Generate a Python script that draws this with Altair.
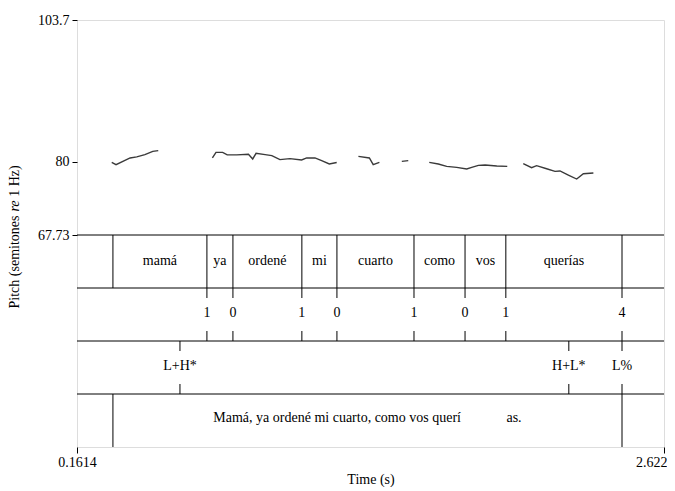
import altair as alt
import pandas as pd

# ---- data ----
# pitch contour (time in s, pitch in semitones re 1 Hz), one list per voiced stretch
seg1_t = [0.307, 0.325, 0.384, 0.412, 0.446, 0.479, 0.502]
seg1_p = [79.88, 79.50, 80.62, 80.79, 81.18, 81.73, 81.85]
seg2_t = [0.729, 0.744, 0.772, 0.791, 0.831, 0.880, 0.898, 0.912, 0.950, 0.978,
          1.012, 1.054, 1.103, 1.124, 1.159, 1.187, 1.219, 1.250]
seg2_p = [80.62, 81.56, 81.56, 81.13, 81.13, 81.23, 80.45, 81.40, 81.18, 81.01,
          80.34, 80.51, 80.29, 80.62, 80.62, 80.17, 79.61, 79.85]
seg3_t = [1.341, 1.387, 1.403, 1.429]
seg3_p = [80.89, 80.62, 79.50, 79.88]
seg4_t = [1.523, 1.550]
seg4_p = [80.05, 80.17]
seg5_t = [1.638, 1.676, 1.711, 1.753, 1.795, 1.816, 1.844, 1.872, 1.921, 1.965]
seg5_p = [79.88, 79.61, 79.21, 79.04, 78.77, 79.04, 79.38, 79.45, 79.28, 79.21]
seg6_t = [2.032, 2.067, 2.088, 2.130, 2.165, 2.186, 2.221, 2.256, 2.284, 2.326]
seg6_p = [79.66, 78.99, 79.33, 78.82, 78.37, 78.44, 77.76, 77.09, 77.98, 78.10]

t_min, t_max = 0.1614, 2.622
p_min, p_max = 67.73, 103.7
p_ticks = [67.73, 80, 103.7]
t_ticks = [0.1614, 2.622]

# tier 1: words (interval tier)
word_bounds = [0.312, 0.706, 0.815, 1.104, 1.251, 1.574, 1.788, 1.959, 2.446]
words = ["mamá", "ya", "ordené", "mi", "cuarto", "como", "vos", "querías"]
# tier 2: break indices (point tier)
break_times = [0.706, 0.815, 1.104, 1.251, 1.574, 1.788, 1.959, 2.446]
break_labels = ["1", "0", "1", "0", "1", "0", "1", "4"]
# tier 3: tones (point tier)
tone_times = [0.593, 2.223, 2.446]
tone_labels = ["L+H*", "H+L*", "L%"]
# tier 4: sentence (interval tier)
sent_bounds = [0.312, 2.446]
sentence = ["Mamá, ya ordené mi cuarto, como vos querí" + "\u00a0" * 13 + "as."]

# ---- layout ----
W, H = 587, 427
PITCH_H = 215
TIER_H = 53
tier_tops = [PITCH_H + i * TIER_H for i in range(4)]
FONT = "Liberation Serif"
FS = 14
TICK = 10

segs = []
for i, (ts, ps) in enumerate([(seg1_t, seg1_p), (seg2_t, seg2_p), (seg3_t, seg3_p),
                              (seg4_t, seg4_p), (seg5_t, seg5_p), (seg6_t, seg6_p)]):
    segs.append(pd.DataFrame({"t": ts, "p": ps, "seg": i}))
pitch_df = pd.concat(segs, ignore_index=True)

x_enc = alt.X(
    "t:Q",
    scale=alt.Scale(domain=[t_min, t_max], nice=False, zero=False),
    axis=alt.Axis(values=t_ticks, format=".6~g", title="Time (s)", grid=False,
                  domain=False, tickSize=6, tickColor="black", labelPadding=2,
                  labelFont=FONT, labelFontSize=FS, labelColor="black",
                  labelAlign=alt.condition("datum.value > 2", alt.value("right"), alt.value("center")),
                  labelOffset=alt.condition("datum.value > 2", alt.value(3), alt.value(0)),
                  titleFont=FONT, titleFontSize=FS, titleFontWeight="normal",
                  titleColor="black", titlePadding=3, labelFlush=False),
)

layers = []

# pitch contour
layers.append(
    alt.Chart(pitch_df).mark_line(color="#3a3a3a", strokeWidth=1.4).encode(
        x=x_enc,
        y=alt.Y("p:Q",
                scale=alt.Scale(domain=[p_min, p_max], range=[PITCH_H, 0], nice=False, zero=False),
                axis=alt.Axis(values=p_ticks, format=".6~g", title=None, grid=False,
                              domain=False, tickSize=5, tickColor="black", labelPadding=3,
                              labelFont=FONT, labelFontSize=FS, labelColor="black")),
        detail="seg:N",
    )
)

# tier separators
for yt in tier_tops:
    layers.append(
        alt.Chart(pd.DataFrame({"k": [0]})).mark_rule(color="black", strokeWidth=1).encode(
            x=alt.value(0), x2=alt.value(W), y=alt.value(yt)
        )
    )

# tier 1 words
wb_df = pd.DataFrame({"t": word_bounds})
layers.append(
    alt.Chart(wb_df).mark_rule(color="black", strokeWidth=1).encode(
        x=x_enc, y=alt.value(tier_tops[0]), y2=alt.value(tier_tops[0] + TIER_H))
)
w_df = pd.DataFrame({"start": word_bounds[:-1], "end": word_bounds[1:], "label": words})
layers.append(
    alt.Chart(w_df).transform_calculate(t="(datum.start + datum.end) / 2")
    .mark_text(font=FONT, fontSize=FS, color="black", baseline="middle", align="center")
    .encode(x=x_enc, y=alt.value(tier_tops[0] + 26), text="label:N")
)

# point tiers (breaks, tones)
for top, times, labs in [(tier_tops[1], break_times, break_labels),
                         (tier_tops[2], tone_times, tone_labels)]:
    df = pd.DataFrame({"t": times, "label": labs})
    layers.append(alt.Chart(df).mark_rule(color="black", strokeWidth=1).encode(
        x=x_enc, y=alt.value(top), y2=alt.value(top + TICK)))
    layers.append(alt.Chart(df).mark_rule(color="black", strokeWidth=1).encode(
        x=x_enc, y=alt.value(top + TIER_H - TICK), y2=alt.value(top + TIER_H)))
    layers.append(
        alt.Chart(df).mark_text(font=FONT, fontSize=FS, color="black",
                                baseline="middle", align="center")
        .encode(x=x_enc, y=alt.value(top + 25), text="label:N"))

# tier 4 sentence
sb_df = pd.DataFrame({"t": sent_bounds})
layers.append(
    alt.Chart(sb_df).mark_rule(color="black", strokeWidth=1).encode(
        x=x_enc, y=alt.value(tier_tops[3]), y2=alt.value(tier_tops[3] + TIER_H))
)
s_df = pd.DataFrame({"start": sent_bounds[:-1], "end": sent_bounds[1:], "label": sentence})
layers.append(
    alt.Chart(s_df).transform_calculate(t="(datum.start + datum.end) / 2")
    .mark_text(font=FONT, fontSize=FS, color="black", baseline="middle", align="center")
    .encode(x=x_enc, y=alt.value(tier_tops[3] + 24), text="label:N")
)

# y-axis title (with italic "re")
title_parts = [("Pitch (semitones", "normal", 242), ("re", "italic", 186), ("1 Hz)", "normal", 161)]
for txt, style, yc in title_parts:
    layers.append(
        alt.Chart(pd.DataFrame({"label": [txt]})).mark_text(
            font=FONT, fontSize=FS, fontStyle=style, color="black", angle=270,
            align="center", baseline="middle"
        ).encode(x=alt.value(-62), y=alt.value(yc), text="label:N")
    )

chart = alt.layer(*layers).properties(
    width=W, height=H,
    autosize=alt.AutoSizeParams(type="none"),
    padding={"left": 69, "top": 12, "right": 3, "bottom": 40},
).configure_view(stroke="black", strokeWidth=1).configure(background="white")

chart.save("out.html", embed_options={"renderer": "svg", "actions": False})
